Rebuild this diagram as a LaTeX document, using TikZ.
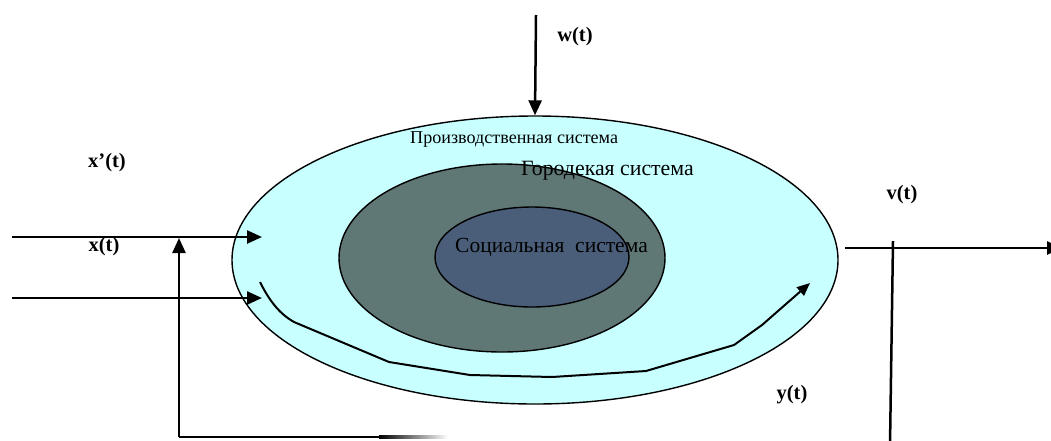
\documentclass[tikz,border=0pt]{standalone}
\usepackage{fontspec}
\setmainfont{Liberation Serif}
\usetikzlibrary{arrows.meta,shapes.geometric}
\definecolor{prodfill}{HTML}{C8FFFF}
\definecolor{cityfill}{HTML}{5F7775}
\definecolor{socfill}{HTML}{4A5E79}
\tikzset{
  sysell/.style={ellipse, draw=black, line width=1.4pt, inner sep=0pt},
  sig/.style={line width=2.5pt, -{Triangle[length=15pt,width=13pt]}},
  plainline/.style={line width=2.5pt},
  lbl/.style={font=\fontsize{20.5}{24}\selectfont\bfseries, inner sep=0pt},
  systxt/.style={inner sep=0pt, anchor=base west}
}
\begin{document}
\begin{tikzpicture}[x=1pt,y=-1pt]
\useasboundingbox (0,0) rectangle (1051,440);
% ellipses
\node[sysell, fill=prodfill, minimum width=606pt, minimum height=288pt] (prod) at (535,260) {};
\node[sysell, fill=cityfill, minimum width=326pt, minimum height=188pt] (city) at (502,258) {};
\node[sysell, fill=socfill, minimum width=194pt, minimum height=100pt] (soc) at (532,257) {};
% system texts
\node[systxt, font=\fontsize{18.1}{21}\selectfont] (tprod) at (410,143) {Производственная система};
\node[systxt, font=\fontsize{21.8}{25}\selectfont] (tcity) at (521,175) {Городекая система};
\node[systxt, font=\fontsize{21.5}{25}\selectfont] (tsoc) at (455,252) {Социальная\ \ система};
% labels
\node[lbl] (lw) at (575,37) {w(t)};
\node[lbl] (lxp) at (107,163) {x’(t)};
\node[lbl] (lx) at (104,247) {x(t)};
\node[lbl] (lv) at (902,195) {v(t)};
\node[lbl] (ly) at (792,395) {y(t)};
% coordinates
\coordinate (wstart) at (536,15);
\coordinate (x1s) at (12,237);
\coordinate (x1e) at (262,237);
\coordinate (x2s) at (12,298);
\coordinate (x2e) at (262,298);
\coordinate (fbcorner) at (179,437);
\coordinate (fbtip) at (179,238);
\coordinate (fbfade) at (380,437);
\coordinate (fbend) at (448,438.25);
\coordinate (outs) at (845,248);
\coordinate (oute) at (1062,248);
\coordinate (vtop) at (893,241);
\coordinate (vbot) at (890,445);
% arrows
\draw[sig] (wstart) -- (prod.north);
\draw[sig] (x1s) -- (x1e);
\draw[sig] (x2s) -- (x2e);
\draw[sig] (fbcorner) -- (fbtip);
\draw[plainline] (fbcorner) -- (fbfade);
\shade[left color=black, right color=white] (379,435.75) rectangle (fbend);
\draw[sig] (outs) -- (oute);
\draw[plainline] (vtop) -- (vbot);
% internal flow
\draw[line width=2pt, -{Triangle[length=13pt,width=11pt]}, line join=round]
  (260,282) .. controls (270,302) and (280,314) .. (294,322) -- (389,362) -- (470,375) -- (552,377) -- (646,371) -- (734,345) -- (762,325) -- (810,283);
\end{tikzpicture}
\end{document}
